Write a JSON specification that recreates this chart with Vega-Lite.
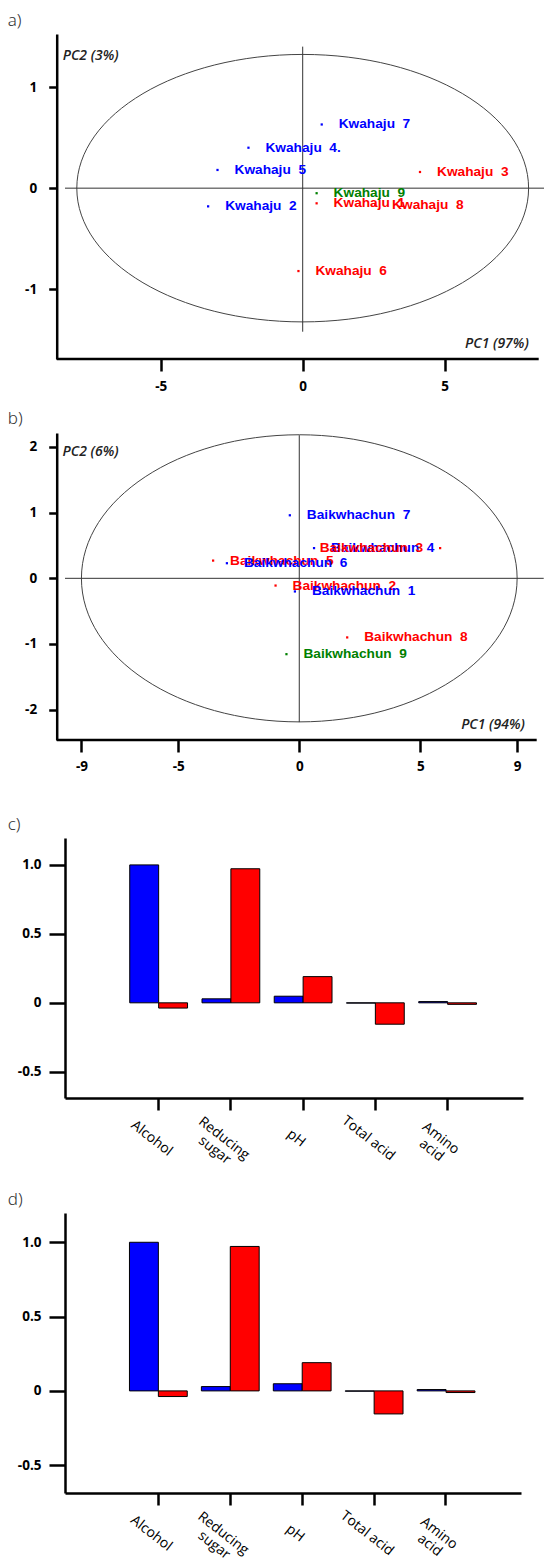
{
  "$schema": "https://vega.github.io/schema/vega-lite/v6.json",
  "padding": {"left": 7, "top": 11, "right": 0, "bottom": 0},
  "background": "white",
  "config": {
    "view": {"stroke": null},
    "axis": {
      "domainColor": "#000", "domainWidth": 2.5, "tickColor": "#000", "tickWidth": 2.5,
      "labelColor": "#000", "labelFont": "Open Sans", "labelFontWeight": "bold", "labelFontSize": 13.5,
      "grid": false, "labelFlush": false
    }
  },
  "datasets": {
    "kwahaju": [
      {"sample": "Kwahaju\u00a0\u00a03", "PC1": 4.13, "PC2": 0.16, "cluster": "2"},
      {"sample": "Kwahaju\u00a0\u00a01", "PC1": 0.49, "PC2": -0.15, "cluster": "2"},
      {"sample": "Kwahaju\u00a0\u00a08", "PC1": 2.55, "PC2": -0.17, "cluster": "2"},
      {"sample": "Kwahaju\u00a0\u00a06", "PC1": -0.15, "PC2": -0.82, "cluster": "2"},
      {"sample": "Kwahaju\u00a0\u00a09", "PC1": 0.49, "PC2": -0.05, "cluster": "3"},
      {"sample": "Kwahaju\u00a0\u00a07", "PC1": 0.67, "PC2": 0.63, "cluster": "1"},
      {"sample": "Kwahaju\u00a0\u00a04.", "PC1": -1.91, "PC2": 0.40, "cluster": "1"},
      {"sample": "Kwahaju\u00a0\u00a05", "PC1": -3.0, "PC2": 0.18, "cluster": "1"},
      {"sample": "Kwahaju\u00a0\u00a02", "PC1": -3.33, "PC2": -0.18, "cluster": "1"}
    ],
    "baik": [
      {"sample": "Baikwhachun\u00a0\u00a03", "PC1": 5.82, "PC2": 0.46, "cluster": "2"},
      {"sample": "Baikwhachun\u00a0\u00a05", "PC1": -3.56, "PC2": 0.27, "cluster": "2"},
      {"sample": "Baikwhachun\u00a0\u00a02", "PC1": -0.98, "PC2": -0.11, "cluster": "2"},
      {"sample": "Baikwhachun\u00a0\u00a08", "PC1": 1.98, "PC2": -0.90, "cluster": "2"},
      {"sample": "Baikwhachun\u00a0\u00a09", "PC1": -0.53, "PC2": -1.155, "cluster": "3"},
      {"sample": "Baikwhachun\u00a0\u00a07", "PC1": -0.39, "PC2": 0.96, "cluster": "1"},
      {"sample": "Baikwhachun\u00a0\u00a04", "PC1": 0.61, "PC2": 0.46, "cluster": "1"},
      {"sample": "Baikwhachun\u00a0\u00a06", "PC1": -2.99, "PC2": 0.23, "cluster": "1"},
      {"sample": "Baikwhachun\u00a0\u00a01", "PC1": -0.18, "PC2": -0.20, "cluster": "1"}
    ],
    "loadings": [
      {"variable": "Alcohol", "component": "PC1", "loading": 1.0},
      {"variable": "Alcohol", "component": "PC2", "loading": -0.038},
      {"variable": "Reducing sugar", "component": "PC1", "loading": 0.029},
      {"variable": "Reducing sugar", "component": "PC2", "loading": 0.972},
      {"variable": "pH", "component": "PC1", "loading": 0.048},
      {"variable": "pH", "component": "PC2", "loading": 0.19},
      {"variable": "Total acid", "component": "PC1", "loading": -0.002},
      {"variable": "Total acid", "component": "PC2", "loading": -0.155},
      {"variable": "Amino acid", "component": "PC1", "loading": 0.009},
      {"variable": "Amino acid", "component": "PC2", "loading": -0.011}
    ]
  },
  "concat": [
    {
      "width": 473.7, "height": 325,
      "title": {"text": "a)", "anchor": "start", "frame": "group", "dx": -57.3, "offset": -8.5, "baseline": "alphabetic", "font": "Noto Sans", "fontSize": 17, "fontWeight": 300, "color": "#333"},
      "layer": [
        {
          "data": {"values": [{}]},
          "mark": {"type": "point", "shape": "M-1,0C-1,-0.327,-0.5523,-0.592,0,-0.592C0.5523,-0.592,1,-0.327,1,0C1,0.327,0.5523,0.592,0,0.592C-0.5523,0.592,-1,0.327,-1,0Z", "size": 204123, "filled": false, "stroke": "#444", "strokeWidth": 1, "opacity": 1},
          "encoding": {
            "x": {"datum": 0, "type": "quantitative", "scale": {"domain": [-8.37, 8.31], "nice": false, "zero": false},
                  "axis": {"title": null, "domain": false, "values": [-5, 0, 5], "tickSize": 12, "labelPadding": 8, "minExtent": 51,
                           "labelExpr": "datum.value < 0 ? '-' + abs(datum.value) : '' + datum.value"}},
            "y": {"datum": 0, "type": "quantitative", "scale": {"domain": [-1.69, 1.525], "nice": false, "zero": false},
                  "axis": {"title": null, "offset": 8.3, "values": [-1, 0, 1], "tickSize": 8, "labelPadding": 12,
                           "labelExpr": "datum.value < 0 ? '-' + abs(datum.value) : '' + datum.value"}}
          }
        },
        {
          "data": {"values": [{}]},
          "mark": {"type": "rule", "color": "#000", "strokeWidth": 2.5},
          "encoding": {"y": {"datum": -1.69}, "x": {"datum": -8.66}, "x2": {"datum": 8.31}}
        },
        {
          "data": {"values": [{}]},
          "mark": {"type": "rule", "color": "#333", "strokeWidth": 1},
          "encoding": {"x": {"datum": 0}, "y": {"datum": 1.40}, "y2": {"datum": -1.42}}
        },
        {
          "data": {"values": [{}]},
          "mark": {"type": "rule", "color": "#333", "strokeWidth": 1},
          "encoding": {"y": {"datum": 0}, "x": {"datum": -8.37}, "x2": {"datum": 8.52}}
        },
        {
          "data": {"name": "kwahaju"},
          "mark": {"type": "point", "shape": "square", "size": 5, "filled": true, "opacity": 1},
          "encoding": {
            "x": {"field": "PC1", "type": "quantitative"},
            "y": {"field": "PC2", "type": "quantitative"},
            "color": {"field": "cluster", "type": "nominal", "scale": {"domain": ["1", "2", "3"], "range": ["#0000ff", "#ff0000", "#008000"]}, "legend": null}
          }
        },
        {
          "data": {"name": "kwahaju"},
          "mark": {"type": "text", "align": "left", "baseline": "middle", "dx": 17, "font": "Liberation Sans", "fontWeight": "bold", "fontSize": 13.7},
          "encoding": {
            "x": {"field": "PC1", "type": "quantitative"},
            "y": {"field": "PC2", "type": "quantitative"},
            "text": {"field": "sample"},
            "color": {"field": "cluster", "type": "nominal", "scale": {"domain": ["1", "2", "3"], "range": ["#0000ff", "#ff0000", "#008000"]}, "legend": null}
          }
        },
        {
          "data": {"values": [{}]},
          "mark": {"type": "text", "align": "left", "baseline": "middle", "font": "Open Sans", "fontStyle": "italic", "fontWeight": 600, "fontSize": 14, "color": "#222", "text": "PC2 (3%)"},
          "encoding": {"x": {"datum": -8.45}, "y": {"datum": 1.307}}
        },
        {
          "data": {"values": [{}]},
          "mark": {"type": "text", "align": "right", "baseline": "middle", "font": "Open Sans", "fontStyle": "italic", "fontWeight": 600, "fontSize": 14, "color": "#222", "text": "PC1 (97%)"},
          "encoding": {"x": {"datum": 7.96}, "y": {"datum": -1.545}}
        }
      ]
    },
    {
      "width": 471.7, "height": 307,
      "title": {"text": "b)", "anchor": "start", "frame": "group", "dx": -57.3, "offset": -8.5, "baseline": "alphabetic", "font": "Noto Sans", "fontSize": 17, "fontWeight": 300, "color": "#333"},
      "layer": [
        {
          "data": {"values": [{}]},
          "mark": {"type": "point", "shape": "M-1,0C-1,-0.364,-0.5523,-0.659,0,-0.659C0.5523,-0.659,1,-0.364,1,0C1,0.364,0.5523,0.659,0,0.659C-0.5523,0.659,-1,0.364,-1,0Z", "size": 189834, "filled": false, "stroke": "#444", "strokeWidth": 1, "opacity": 1},
          "encoding": {
            "x": {"datum": 0, "type": "quantitative", "scale": {"domain": [-9.68, 9.81], "nice": false, "zero": false},
                  "axis": {"title": null, "domain": false, "values": [-9, -5, 0, 5, 9], "tickSize": 12, "labelPadding": 7, "minExtent": 75,
                           "labelExpr": "datum.value < 0 ? '-' + abs(datum.value) : '' + datum.value"}},
            "y": {"datum": 0, "type": "quantitative", "scale": {"domain": [-2.462, 2.213], "nice": false, "zero": false},
                  "axis": {"title": null, "offset": 8.3, "values": [-2, -1, 0, 1, 2], "tickSize": 8, "labelPadding": 12,
                           "labelExpr": "datum.value < 0 ? '-' + abs(datum.value) : '' + datum.value"}}
          }
        },
        {
          "data": {"values": [{}]},
          "mark": {"type": "rule", "color": "#000", "strokeWidth": 2.5},
          "encoding": {"y": {"datum": -2.462}, "x": {"datum": -10.02}, "x2": {"datum": 9.81}}
        },
        {
          "data": {"values": [{}]},
          "mark": {"type": "rule", "color": "#333", "strokeWidth": 1},
          "encoding": {"x": {"datum": 0}, "y": {"datum": 2.18}, "y2": {"datum": -2.19}}
        },
        {
          "data": {"values": [{}]},
          "mark": {"type": "rule", "color": "#333", "strokeWidth": 1},
          "encoding": {"y": {"datum": 0}, "x": {"datum": -9.68}, "x2": {"datum": 10.1}}
        },
        {
          "data": {"name": "baik"},
          "mark": {"type": "point", "shape": "square", "size": 5, "filled": true, "opacity": 1},
          "encoding": {
            "x": {"field": "PC1", "type": "quantitative"},
            "y": {"field": "PC2", "type": "quantitative"},
            "color": {"field": "cluster", "type": "nominal", "scale": {"domain": ["1", "2", "3"], "range": ["#0000ff", "#ff0000", "#008000"]}, "legend": null}
          }
        },
        {
          "data": {"name": "baik"},
          "transform": [{"filter": "datum.sample != 'Baikwhachun\u00a0\u00a03'"}],
          "mark": {"type": "text", "align": "left", "baseline": "middle", "dx": 17, "font": "Liberation Sans", "fontWeight": "bold", "fontSize": 13.7},
          "encoding": {
            "x": {"field": "PC1", "type": "quantitative"},
            "y": {"field": "PC2", "type": "quantitative"},
            "text": {"field": "sample"},
            "color": {"field": "cluster", "type": "nominal", "scale": {"domain": ["1", "2", "3"], "range": ["#0000ff", "#ff0000", "#008000"]}, "legend": null}
          }
        },
        {
          "data": {"name": "baik"},
          "transform": [{"filter": "datum.sample == 'Baikwhachun\u00a0\u00a03'"}],
          "mark": {"type": "text", "align": "right", "baseline": "middle", "dx": -17, "font": "Liberation Sans", "fontWeight": "bold", "fontSize": 13.7},
          "encoding": {
            "x": {"field": "PC1", "type": "quantitative"},
            "y": {"field": "PC2", "type": "quantitative"},
            "text": {"field": "sample"},
            "color": {"field": "cluster", "type": "nominal", "scale": {"domain": ["1", "2", "3"], "range": ["#0000ff", "#ff0000", "#008000"]}, "legend": null}
          }
        },
        {
          "data": {"values": [{}]},
          "mark": {"type": "text", "align": "left", "baseline": "middle", "font": "Open Sans", "fontStyle": "italic", "fontWeight": 600, "fontSize": 14, "color": "#222", "text": "PC2 (6%)"},
          "encoding": {"x": {"datum": -9.78}, "y": {"datum": 1.918}}
        },
        {
          "data": {"values": [{}]},
          "mark": {"type": "text", "align": "right", "baseline": "middle", "font": "Open Sans", "fontStyle": "italic", "fontWeight": 600, "fontSize": 14, "color": "#222", "text": "PC1 (94%)"},
          "encoding": {"x": {"datum": 9.32}, "y": {"datum": -2.233}}
        }
      ]
    },
    {
      "width": 458, "height": 260,
      "title": {"text": "c)", "anchor": "start", "frame": "group", "dx": -57.3, "offset": -8.5, "baseline": "alphabetic", "font": "Noto Sans", "fontSize": 17, "fontWeight": 300, "color": "#333"},
      "data": {"name": "loadings"},
      "mark": {"type": "bar", "stroke": "#000", "strokeWidth": 1},
      "encoding": {
        "x": {"field": "variable", "type": "nominal", "sort": null, "scale": {"paddingInner": 0.2, "paddingOuter": 0.77, "align": 0.582},
              "axis": {"title": null, "tickSize": 12, "labelAngle": 38, "labelAlign": "center", "labelBaseline": "middle", "labelPadding": 28, "labelOffset": -7, "labelFont": "Open Sans", "labelFontWeight": "normal", "labelFontSize": 14, "labelLineHeight": 15, "minExtent": 92,
                       "labelExpr": "datum.value == 'Reducing sugar' ? ['Reducing', 'sugar'] : datum.value == 'Amino acid' ? ['Amino', 'acid'] : datum.label"}},
        "xOffset": {"field": "component", "type": "nominal", "scale": {"paddingInner": 0, "paddingOuter": 0}},
        "y": {"field": "loading", "type": "quantitative", "scale": {"domain": [-0.69, 1.195], "nice": false, "zero": false},
              "axis": {"title": null, "values": [-0.5, 0, 0.5, 1], "tickSize": 16, "labelPadding": 8,
                       "labelExpr": "datum.value == 0 ? '0' : datum.value < 0 ? '-' + format(-datum.value, '.1f') : format(datum.value, '.1f')"}},
        "color": {"field": "component", "type": "nominal", "scale": {"domain": ["PC1", "PC2"], "range": ["#0000ff", "#ff0000"]}, "legend": null}
      }
    },
    {
      "width": 456, "height": 280,
      "title": {"text": "d)", "anchor": "start", "frame": "group", "dx": -57.3, "offset": -8.5, "baseline": "alphabetic", "font": "Noto Sans", "fontSize": 17, "fontWeight": 300, "color": "#333"},
      "data": {"name": "loadings"},
      "mark": {"type": "bar", "stroke": "#000", "strokeWidth": 1},
      "encoding": {
        "x": {"field": "variable", "type": "nominal", "sort": null, "scale": {"paddingInner": 0.2, "paddingOuter": 0.77, "align": 0.582},
              "axis": {"title": null, "tickSize": 12, "labelAngle": 38, "labelAlign": "center", "labelBaseline": "middle", "labelPadding": 28, "labelOffset": -7, "labelFont": "Open Sans", "labelFontWeight": "normal", "labelFontSize": 14, "labelLineHeight": 15,
                       "labelExpr": "datum.value == 'Reducing sugar' ? ['Reducing', 'sugar'] : datum.value == 'Amino acid' ? ['Amino', 'acid'] : datum.label"}},
        "xOffset": {"field": "component", "type": "nominal", "scale": {"paddingInner": 0, "paddingOuter": 0}},
        "y": {"field": "loading", "type": "quantitative", "scale": {"domain": [-0.687, 1.197], "nice": false, "zero": false},
              "axis": {"title": null, "values": [-0.5, 0, 0.5, 1], "tickSize": 16, "labelPadding": 8,
                       "labelExpr": "datum.value == 0 ? '0' : datum.value < 0 ? '-' + format(-datum.value, '.1f') : format(datum.value, '.1f')"}},
        "color": {"field": "component", "type": "nominal", "scale": {"domain": ["PC1", "PC2"], "range": ["#0000ff", "#ff0000"]}, "legend": null}
      }
    }
  ],
  "columns": 1,
  "align": "none",
  "bounds": "full",
  "spacing": 0
}
